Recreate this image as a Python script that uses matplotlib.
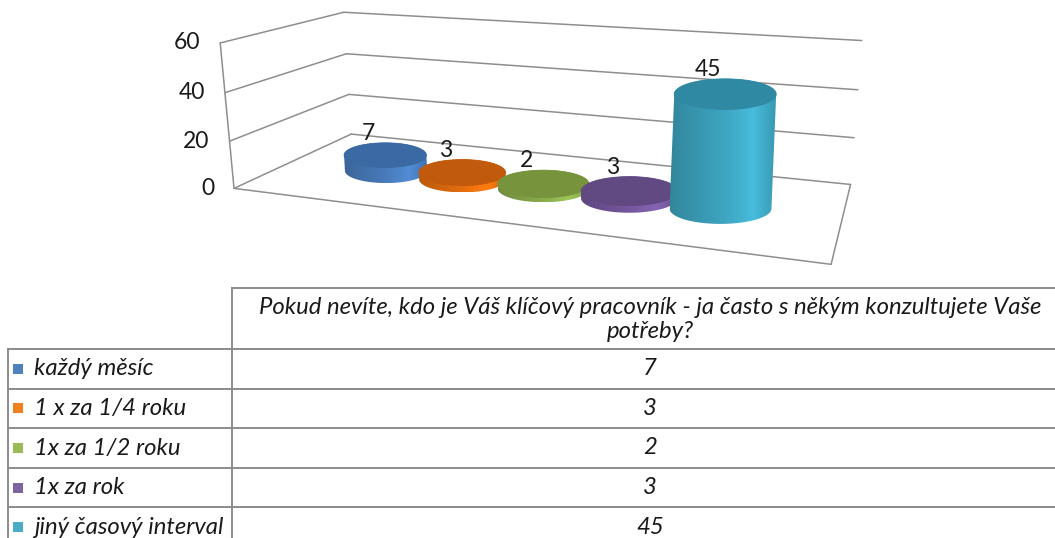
import numpy as np
import matplotlib
matplotlib.use("Agg")
import matplotlib.pyplot as plt
from matplotlib.patches import Polygon, Rectangle
from matplotlib.colors import to_rgb

# ---- data -------------------------------------------------------------
categories = ["každý měsíc", "1 x za 1/4 roku", "1x za 1/2 roku", "1x za rok",
              "jiný časový interval"]
values = [7, 3, 2, 3, 45]
y_ticks = [0, 20, 40, 60]
question = ("Pokud nevíte, kdo je Váš klíčový pracovník - ja často s někým "
            "konzultujete Vaše\npotřeby?")

side_colors = ["#4A7EBF", "#E8700E", "#8DB04E", "#7759A0", "#3FA8C4"]
top_colors = ["#3B69A3", "#C25A0D", "#77933C", "#614982", "#3089A2"]
key_colors = ["#4F81BD", "#F07F1E", "#9BBB59", "#8064A2", "#4BACC6"]

plt.rcParams["font.family"] = ["Lato", "DejaVu Sans"]
FS = 16.5          # axis and data labels
FS_TABLE = 17.2    # data table text

# ---- canvas in pixel units -------------------------------------------
W, H = 1055, 538
fig = plt.figure(figsize=(W / 100, H / 100), dpi=100)
ax = fig.add_axes([0, 0, 1, 1])
ax.set_xlim(0, W)
ax.set_ylim(H, 0)
ax.axis("off")

# ---- perspective projection of the 3-D plot box ------------------------
# world coords: u = category axis (0..n), v = depth (0 front .. 1 back),
# t = value / ymax.  The camera matrix is solved from where the box
# corners sit on the canvas.
n = len(categories)
ymax = y_ticks[-1]
box_world = np.array([[0, 0, 0], [0, 0, 1], [0, 1, 0], [0, 1, 1],
                      [n, 1, 0], [n, 1, 1], [n, 0, 0]], float)
box_canvas = np.array([[234.3, 188.3], [220.0, 42.7], [351.0, 134.3],
                       [344.0, 12.3], [850.7, 184.0], [861.7, 40.7],
                       [831.0, 264.7]])

rows = []
for (X, Y, Z), (x, y) in zip(box_world, box_canvas):
    rows.append([X, Y, Z, 1, 0, 0, 0, 0, -x * X, -x * Y, -x * Z, -x])
    rows.append([0, 0, 0, 0, X, Y, Z, 1, -y * X, -y * Y, -y * Z, -y])
_, _, vt = np.linalg.svd(np.array(rows))
CAM = vt[-1].reshape(3, 4)


def pt(u, v, t):
    p = CAM @ np.array([u, v, t, 1.0])
    return p[:2] / p[2]


def seg(a, b, **kw):
    pa, pb = pt(*a), pt(*b)
    ax.plot([pa[0], pb[0]], [pa[1], pb[1]], **kw)


grid_kw = dict(color="#8E8E8E", lw=1.1, solid_capstyle="round", zorder=1)
for tk in y_ticks:
    t = tk / ymax
    seg((0, 0, t), (0, 1, t), **grid_kw)      # side wall
    seg((0, 1, t), (n, 1, t), **grid_kw)      # back wall
seg((0, 0, 0), (0, 0, 1), **grid_kw)
seg((0, 0, 0), (n, 0, 0), **grid_kw)
seg((n, 0, 0), (n, 1, 0), **grid_kw)

for tk in y_ticks:
    p = pt(0, 0, tk / ymax)
    ax.text(p[0] - 20, p[1], str(tk), ha="right", va="center",
            fontsize=FS, color="#1A1A1A")


# ---- cylinders ------------------------------------------------------
def hull(pts):
    pts = sorted(set(map(tuple, np.round(pts, 4))))
    def cross(o, a, b):
        return (a[0] - o[0]) * (b[1] - o[1]) - (a[1] - o[1]) * (b[0] - o[0])
    lower, upper = [], []
    for p in pts:
        while len(lower) >= 2 and cross(lower[-2], lower[-1], p) <= 0:
            lower.pop()
        lower.append(p)
    for p in reversed(pts):
        while len(upper) >= 2 and cross(upper[-2], upper[-1], p) <= 0:
            upper.pop()
        upper.append(p)
    return np.array(lower[:-1] + upper[:-1])


# series placement on the floor (category slots squeezed by the gap width)
u_first, u_step, v_c = 0.98, 0.768, 0.47
radius = 0.46           # in category units, measured along the back wall
flat = 0.30             # vertical / horizontal axis ratio of the caps
theta = np.linspace(0, 2 * np.pi, 181)
shade_pos = [0.0, 0.5, 0.78, 1.0]
shade_mul = [0.80, 0.98, 1.12, 0.90]

for i, (val, sc, tc) in enumerate(zip(values, side_colors, top_colors)):
    u_c = u_first + u_step * i
    t_top = val / ymax
    B = pt(u_c, v_c, 0)
    T = pt(u_c, v_c, t_top)
    a = abs(pt(u_c + radius, 1, 0)[0] - pt(u_c - radius, 1, 0)[0]) / 2
    b = a * flat
    ex, ey = a * np.cos(theta), b * np.sin(theta)
    bx, by = B[0] + ex, B[1] + ey
    tx, ty = T[0] + ex, T[1] + ey
    outline = hull(np.column_stack([np.r_[bx, tx], np.r_[by, ty]]))
    z = 3 + i

    x0, x1 = outline[:, 0].min(), outline[:, 0].max()
    y0, y1 = outline[:, 1].min(), outline[:, 1].max()
    xs = np.linspace(0, 1, 200)
    mul = np.interp(xs, shade_pos, shade_mul)
    base = np.array(to_rgb(sc))
    row = np.clip(base[None, :] * mul[:, None], 0, 1)
    img = np.repeat(row[None, :, :], 2, axis=0)
    clip = Polygon(outline, closed=True, transform=ax.transData)
    im = ax.imshow(img, extent=[x0, x1, y1, y0], aspect="auto",
                   interpolation="bilinear", zorder=z)
    im.set_clip_path(clip)
    ax.add_patch(Polygon(np.column_stack([tx, ty]), closed=True,
                         facecolor=tc, edgecolor=tc, lw=0.6, zorder=z))

    ax.annotate(str(val), (T[0], T[1] - b), xytext=(-17, -1),
                textcoords="offset pixels", ha="center", va="bottom",
                fontsize=FS, color="#1A1A1A", zorder=20)

ax.set_xlim(0, W)
ax.set_ylim(H, 0)

# ---- data table -------------------------------------------------------
line_kw = dict(color="#8C8C8C", lw=1.4, zorder=1)
col_x, left_x = 232, 8
top_y, head_y, row_h = 288, 349, 39.6
ax.plot([col_x, W], [top_y, top_y], **line_kw)
ax.plot([col_x, col_x], [top_y, H], **line_kw)
ax.plot([left_x, left_x], [head_y, H], **line_kw)
val_x = 650
ax.text(val_x, (top_y + head_y) / 2 + 1, question, ha="center", va="center",
        fontsize=FS_TABLE, style="italic", color="#1A1A1A", linespacing=1.2)
for k, (cat, val, kc) in enumerate(zip(categories, values, key_colors)):
    ya = head_y + k * row_h
    ax.plot([left_x, W], [ya, ya], **line_kw)
    yc = ya + row_h / 2
    ax.add_patch(Rectangle((13, yc - 5), 10, 10, facecolor=kc,
                           edgecolor="none", zorder=2))
    ax.text(34, yc, cat, ha="left", va="center", fontsize=FS_TABLE,
            style="italic", color="#1A1A1A")
    ax.text(val_x, yc, str(val), ha="center", va="center", fontsize=FS_TABLE,
            style="italic", color="#1A1A1A")

fig.savefig("out.png", dpi=100)
